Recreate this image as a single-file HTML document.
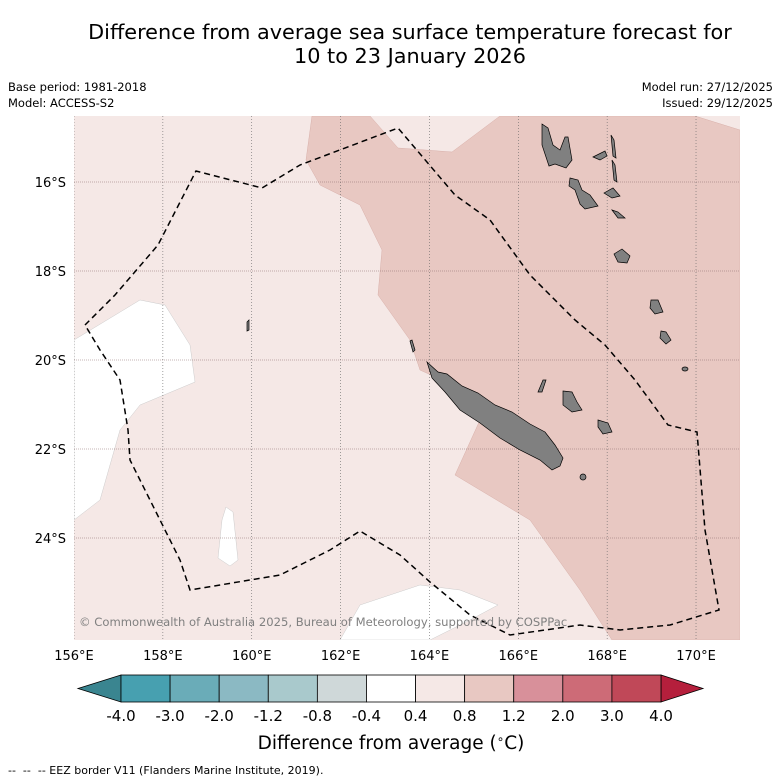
<!DOCTYPE html>
<html><head><meta charset="utf-8"><style>
body{margin:0;background:#fff;font-family:"Liberation Sans","DejaVu Sans",sans-serif;}
#wrap{position:relative;width:781px;height:781px;overflow:hidden;}
</style></head><body>
<div id="wrap">
<svg id="svg" width="781" height="781" xmlns="http://www.w3.org/2000/svg" font-family="DejaVu Sans, Liberation Sans, sans-serif">
<text x="410" y="39" font-size="20.8" text-anchor="middle" fill="#000">Difference from average sea surface temperature forecast for</text>
<text x="410" y="63" font-size="20.8" text-anchor="middle" fill="#000">10 to 23 January 2026</text>
<text x="8" y="91" font-size="11.5">Base period: 1981-2018</text>
<text x="8" y="107" font-size="11.5">Model: ACCESS-S2</text>
<text x="773" y="91" font-size="11.5" text-anchor="end">Model run: 27/12/2025</text>
<text x="773" y="107" font-size="11.5" text-anchor="end">Issued: 29/12/2025</text>
<defs><clipPath id="mc"><rect x="74" y="116" width="666" height="524"/></clipPath></defs>
<g clip-path="url(#mc)">
<rect x="74" y="116" width="666" height="524" fill="#f5e8e6"/>
<polygon fill="#e8c8c2" stroke="#d8b0aa" stroke-width="0.5" points="312,116 370,116 398,148 452,152 500,116 695,116 740,130 740,640 612,640 580,590 530,520 455,475 480,420 475,395 420,370 410,340 378,295 382,250 360,205 320,185 306,160"/>
<polygon fill="#fff" stroke="#ccc" stroke-width="0.5" points="74,340 140,300 165,305 190,345 195,382 140,405 120,430 100,500 74,520"/>
<polygon fill="#fff" stroke="#ccc" stroke-width="0.5" points="226,507 233,512 238,560 230,566 218,558 222,520"/>
<polygon fill="#fff" stroke="#ccc" stroke-width="0.5" points="340,640 360,605 420,585 460,590 498,605 470,620 430,640"/>
<g id="grid"></g>
<g fill="#808080" stroke="#000" stroke-width="0.7">
<polygon points="427,362 438,372 447,374 462,386 478,393 495,405 512,412 530,424 545,432 555,445 563,458 560,466 552,470 540,460 520,450 500,438 480,423 460,410 445,392 432,378"/>
<polygon points="563,391 572,392 577,402 582,410 572,412 563,405"/>
<polygon points="598,420 608,423 612,432 603,434 598,427"/>
<polygon points="538,392 543,380 546,380 542,392"/>
<polygon points="542,124 548,128 553,145 560,150 565,137 568,137 572,160 566,168 555,164 549,166 542,145"/>
<polygon points="570,178 578,180 582,190 590,195 598,206 585,209 580,204 575,190 569,186"/>
<polygon points="593,157 605,151 607,156 600,160"/>
<polygon points="611,135 614,140 616,158 613,156"/>
<polygon points="604,193 613,188 620,196 612,198"/>
<polygon points="612,160 615,165 617,182 614,180"/>
<polygon points="612,210 618,212 625,218 618,218"/>
<polygon points="614,254 622,249 630,256 627,263 618,262"/>
<polygon points="651,300 658,300 663,312 655,314 650,308"/>
<polygon points="661,331 666,332 671,340 666,344 660,338"/>
<ellipse cx="685" cy="369" rx="3" ry="2"/>
<ellipse cx="583" cy="477" rx="3" ry="3"/>
<polygon points="247,322 249,320 249,330 247,331"/>
<polygon points="410,341 412,340 415,350 413,352"/>
</g>
<polyline fill="none" stroke="#000" stroke-width="1.5" stroke-dasharray="6,4" points="85,325 115,295 158,245 196,171 262,188 300,165 398,128 455,195 490,220 530,275 575,320 605,345 635,380 668,425 697,432 705,530 719,610 670,625 620,630 580,625 510,635 470,615 430,582 400,555 360,531 330,550 280,575 190,590 180,560 150,500 130,460 128,430 120,380 100,350 85,325"/>
<text x="79" y="626" font-size="11.6" fill="#808080">© Commonwealth of Australia 2025, Bureau of Meteorology, supported by COSPPac</text>
</g>
<g id="axes"></g>
<g id="cbar"></g>
<text x="391" y="749" font-size="18.5" text-anchor="middle">Difference from average (<tspan font-size="12" dy="-6">∘</tspan><tspan dy="6">C)</tspan></text>
<text x="8" y="774" font-size="11" xml:space="preserve" style="white-space:pre">--  --  -- EEZ border V11 (Flanders Marine Institute, 2019).</text>
</svg>
</div>
<script>
const lonTicks=[156,158,160,162,164,166,168,170];
const latTicks=[16,18,20,22,24];
const cbarTicks=["-4.0","-3.0","-2.0","-1.2","-0.8","-0.4","0.4","0.8","1.2","2.0","3.0","4.0"];
const cbarColors=["#47a0b0","#6aacb8","#8bb9c3","#a9c9cc","#cfd8d9","#ffffff","#f5e8e6","#e8c8c2","#d8909a","#cd6b77","#c04858"];
const NS="http://www.w3.org/2000/svg";
function xLon(l){return 74+(l-156)*44.43;}
function yLat(l){return 182+(l-16)*44.5;}
function mk(t,a,p){const e=document.createElementNS(NS,t);for(const k in a)e.setAttribute(k,a[k]);p.appendChild(e);return e;}
const grid=document.getElementById('grid'),axes=document.getElementById('axes'),cb=document.getElementById('cbar');
lonTicks.forEach(l=>{const x=xLon(l);
 const g=mk('line',{x1:x,x2:x,y1:116,y2:640,stroke:'#666','stroke-width':0.6,'stroke-dasharray':'1,2'},grid);
 
 
 const t=mk('text',{x:x,y:660,'font-size':13,'text-anchor':'middle'},axes);t.textContent=l+'°E';
 
 });
latTicks.forEach(l=>{const y=yLat(l);
 const g=mk('line',{x1:74,x2:740,y1:y,y2:y,stroke:'#8a6a6a','stroke-width':0.6,'stroke-dasharray':'1,1'},grid);
 
 
 const t=mk('text',{x:66,y:y+5,'font-size':13,'text-anchor':'end'},axes);t.textContent=l+'°S';
 
 });
const x0=121,x1=661,y0=675,y1=702,w=(x1-x0)/cbarColors.length;
const lt=mk('polygon',{points:`${x0},${y0} 78,${(y0+y1)/2} ${x0},${y1}`,fill:'#3a8590',stroke:'#000','stroke-width':0.8},cb);


const rt=mk('polygon',{points:`${x1},${y0} 703,${(y0+y1)/2} ${x1},${y1}`,fill:'#b51f3c',stroke:'#000','stroke-width':0.8},cb);


cbarColors.forEach((c,i)=>{const r=mk('rect',{x:x0+i*w,y:y0,width:w,height:y1-y0,fill:c,stroke:'#000','stroke-width':0.8},cb);
 
 });
cbarTicks.forEach((s,i)=>{const t=mk('text',{x:x0+i*w,y:721,'font-size':15,'text-anchor':'middle'},cb);t.textContent=s;
 
 });
</script>
</body></html>
